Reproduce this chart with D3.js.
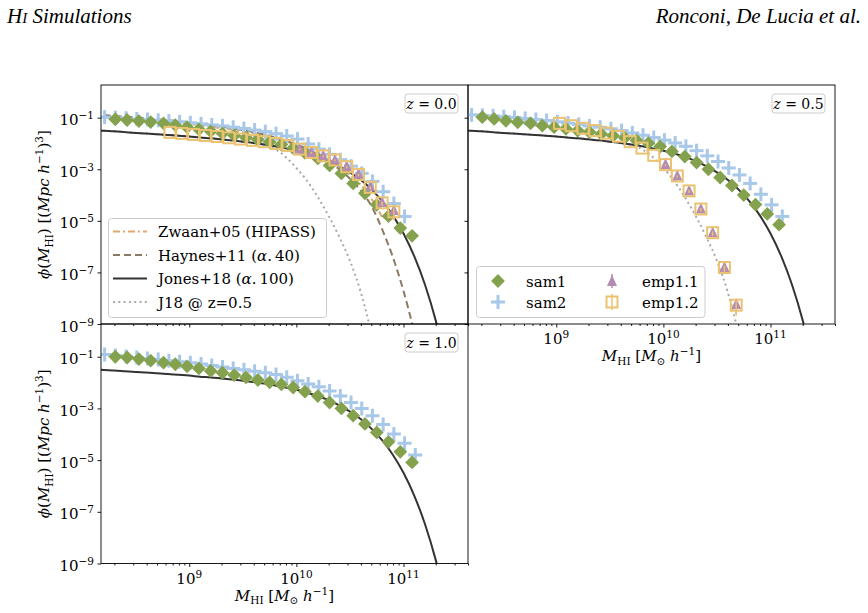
<!DOCTYPE html>
<html><head><meta charset="utf-8">
<script src="https://cdn.jsdelivr.net/npm/d3@7"></script>
<style>
body{margin:0;background:#fff}
svg{display:block}
text{font-family:"DejaVu Serif",serif;fill:#000}
</style>
</head><body>
<svg id="c" width="868" height="613"></svg>
<script>
// ---------------- DATA (log10 values) ----------------
const redshiftLabels = ["0.0", "0.5", "1.0"];
const yTickExps = [-1, -3, -5, -7, -9];
const xTickExps = [9, 10, 11];

// sam1 (diamonds)
const logM_sam1 = [8.31,8.42,8.53,8.64,8.76,8.87,8.98,9.09,9.20,9.31,9.42,9.53,9.64,9.75,9.86,9.97,10.08,10.20,10.31,10.42,10.53,10.64,10.75,10.86,10.97,11.08];
const logPhi_sam1_z00 = [-1.06,-1.09,-1.13,-1.17,-1.22,-1.29,-1.37,-1.45,-1.53,-1.61,-1.69,-1.77,-1.85,-1.94,-2.04,-2.18,-2.36,-2.58,-2.85,-3.16,-3.55,-3.93,-4.38,-4.82,-5.28,-5.58];
const logPhi_sam1_z05 = [-0.98,-1.05,-1.12,-1.18,-1.22,-1.31,-1.37,-1.43,-1.50,-1.56,-1.63,-1.70,-1.78,-1.88,-1.99,-2.12,-2.31,-2.51,-2.74,-3.00,-3.32,-3.63,-4.00,-4.37,-4.73,-5.15];
const logPhi_sam1_z10 = [-1.00,-1.03,-1.09,-1.15,-1.23,-1.29,-1.37,-1.45,-1.55,-1.62,-1.71,-1.80,-1.90,-1.99,-2.07,-2.19,-2.35,-2.52,-2.77,-3.00,-3.28,-3.60,-3.93,-4.29,-4.68,-5.09];

// sam2 (plus)
const logM_sam2 = [8.21,8.31,8.41,8.51,8.61,8.71,8.81,8.91,9.01,9.11,9.21,9.31,9.41,9.51,9.61,9.71,9.81,9.91,10.01,10.11,10.21,10.31,10.41,10.51,10.61,10.71,10.81,10.91,11.01,11.11];
const logPhi_sam2_z00 = [-0.98,-1.00,-1.02,-1.05,-1.07,-1.10,-1.13,-1.16,-1.20,-1.24,-1.28,-1.32,-1.37,-1.42,-1.48,-1.54,-1.62,-1.71,-1.83,-2.02,-2.22,-2.42,-2.63,-2.88,-3.16,-3.47,-3.87,-4.33,-4.83];
const logPhi_sam2_z05 = [-0.89,-0.91,-0.93,-0.96,-0.99,-1.03,-1.07,-1.11,-1.16,-1.21,-1.26,-1.32,-1.37,-1.43,-1.50,-1.59,-1.68,-1.77,-1.87,-1.98,-2.11,-2.28,-2.48,-2.70,-2.95,-3.22,-3.55,-3.97,-4.38,-4.83];
const logPhi_sam2_z10 = [-0.91,-0.95,-0.99,-1.03,-1.07,-1.11,-1.15,-1.19,-1.23,-1.28,-1.34,-1.40,-1.45,-1.50,-1.56,-1.62,-1.69,-1.79,-1.93,-2.05,-2.16,-2.33,-2.52,-2.77,-3.00,-3.28,-3.62,-3.99,-4.35,-4.80];

// emp1.2 (open squares) and emp1.1 (triangles)
const logM_emp12_z00 = [8.82,8.93,9.04,9.15,9.26,9.37,9.48,9.59,9.70,9.81,9.92,10.03,10.14,10.25,10.36,10.47,10.58,10.69,10.80,10.91];
const logPhi_emp12_z00 = [-1.57,-1.61,-1.65,-1.69,-1.73,-1.78,-1.83,-1.88,-1.93,-2.00,-2.08,-2.22,-2.35,-2.48,-2.64,-2.90,-3.20,-3.70,-4.30,-4.65];
const err_emp12_z00 = [0,0,0,0,0,0,0,0,0,0,0,0.04,0.04,0.05,0.05,0.06,0.07,0.09,0.12,0.32];
const logM_emp11_z00 = [10.03,10.14,10.25,10.36,10.47,10.58,10.69,10.80,10.91];
const logPhi_emp11_z00 = [-2.20,-2.33,-2.46,-2.62,-2.87,-3.17,-3.66,-4.27,-4.58];
const err_emp11_z00 = [0.04,0.04,0.05,0.05,0.06,0.07,0.09,0.12,0.38];

const logM_emp12_z05 = [9.03,9.14,9.25,9.36,9.47,9.58,9.69,9.80,9.91,10.02,10.13,10.24,10.35,10.46,10.57,10.68];
const logPhi_emp12_z05 = [-1.22,-1.31,-1.41,-1.50,-1.60,-1.72,-1.93,-2.18,-2.46,-2.82,-3.26,-3.84,-4.54,-5.46,-6.81,-8.27];
const err_emp12_z05 = [0,0,0,0,0,0,0,0,0,0.05,0.06,0.08,0.10,0.13,0.20,0.40];
const logM_emp11_z05 = [10.02,10.13,10.24,10.35,10.46,10.57,10.68];
const logPhi_emp11_z05 = [-2.80,-3.24,-3.82,-4.52,-5.44,-6.79,-8.22];
const err_emp11_z05 = [0.05,0.06,0.08,0.10,0.13,0.20,0.42];

// observational mass functions (curves)
const logM_jones = [8.1,8.2,8.3,8.4,8.5,8.6,8.7,8.8,8.9,9.0,9.1,9.2,9.3,9.4,9.5,9.6,9.7,9.8,9.9,10.0,10.1,10.2,10.3,10.4,10.5,10.6,10.7,10.8,10.9,11.0,11.1,11.2,11.3,11.4];
const logPhi_jones = [-1.48,-1.51,-1.53,-1.56,-1.59,-1.61,-1.64,-1.67,-1.70,-1.73,-1.77,-1.80,-1.84,-1.88,-1.93,-1.98,-2.04,-2.11,-2.19,-2.28,-2.39,-2.52,-2.68,-2.88,-3.12,-3.41,-3.78,-4.23,-4.79,-5.49,-6.37,-7.47,-8.85,-10.58];
const logM_haynes = [8.1,8.2,8.3,8.4,8.5,8.6,8.7,8.8,8.9,9.0,9.1,9.2,9.3,9.4,9.5,9.6,9.7,9.8,9.9,10.0,10.1,10.2,10.3,10.4,10.5,10.6,10.7,10.8,10.9,11.0,11.1];
const logPhi_haynes = [-0.87,-0.90,-0.93,-0.96,-0.99,-1.02,-1.06,-1.10,-1.14,-1.19,-1.24,-1.29,-1.35,-1.41,-1.48,-1.56,-1.65,-1.76,-1.89,-2.04,-2.22,-2.43,-2.68,-3.00,-3.36,-3.82,-4.42,-5.32,-6.40,-7.72,-9.30];
const logM_zwaan = [8.1,8.2,8.3,8.4,8.5,8.6,8.7,8.8,8.9,9.0,9.1,9.2,9.3,9.4,9.5,9.6,9.7,9.8,9.9,10.0,10.1,10.2,10.3,10.4,10.5,10.6,10.7,10.8];
const logPhi_zwaan = [-0.95,-0.97,-1.00,-1.03,-1.06,-1.09,-1.12,-1.16,-1.20,-1.25,-1.30,-1.35,-1.41,-1.47,-1.54,-1.61,-1.70,-1.80,-1.92,-2.06,-2.22,-2.41,-2.63,-2.90,-3.22,-3.60,-4.14,-4.85];
const logM_j18z05 = [8.1,8.5,9.0,9.3,9.5,9.6,9.7,9.8,9.9,10.0,10.1,10.2,10.3,10.4,10.5,10.6,10.7,10.8];
const logPhi_j18z05 = [-1.48,-1.59,-1.73,-1.84,-1.93,-1.99,-2.06,-2.22,-2.52,-2.95,-3.45,-4.08,-4.80,-5.62,-6.55,-7.75,-9.35,-11.2];

// ---------------- STYLE ----------------
const C = {
  sam1: "#84a24d", sam2: "#a8c8e9", emp11: "#b48cb1", emp12: "#ebc370",
  jones: "#333333", haynes: "#8c7a63", zwaan: "#e2a870", j18: "#a9a9a9"
};
const FS = 15;

const svg = d3.select("#c");
svg.append("rect").attr("width", 868).attr("height", 613).attr("fill", "#fff");

// rich text helper
function rich(sel, parts, size) {
  let shift = 0;
  parts.forEach(p => {
    const ts = sel.append("tspan").text(p.t);
    const target = p.sub ? 3.5 : p.sup ? -6 : 0;
    if (target !== shift) { ts.attr("dy", target - shift); shift = target; }
    if (p.i) ts.attr("font-style", "italic");
    if (p.sub || p.sup) ts.attr("font-size", size * 0.7);
  });
  return sel;
}

// header
svg.append("text").attr("x", 7).attr("y", 23)
  .style("font-family", "'Liberation Serif','Times New Roman',serif")
  .attr("font-style", "italic").attr("font-size", 21)
  .call(t => { t.append("tspan").text("H"); t.append("tspan").attr("font-size", 15).text("I"); t.append("tspan").text(" Simulations"); });
svg.append("text").attr("x", 861).attr("y", 23).attr("text-anchor", "end")
  .style("font-family", "'Liberation Serif','Times New Roman',serif")
  .attr("font-style", "italic").attr("font-size", 21).text("Ronconi, De Lucia et al.");

const P = (v) => Math.pow(10, v);
const zip = (a, b) => a.map((v, i) => [v, b[i]]);

const panels = [
  { id: "z00", x0: 101, x1: 468, y0: 85, y1: 324, lab: redshiftLabels[0], xLabels: false, yLabels: true },
  { id: "z05", x0: 468, x1: 835, y0: 85, y1: 324, lab: redshiftLabels[1], xLabels: true, yLabels: false },
  { id: "z10", x0: 101, x1: 468, y0: 324, y1: 563.5, lab: redshiftLabels[2], xLabels: true, yLabels: true }
];

const diamond = "M0,-6.9L6.9,0L0,6.9L-6.9,0Z";
const tri = "M0,-6L5,5L-5,5Z";

function drawPlus(g, x, y) {
  g.append("line").attr("x1", x - 7).attr("x2", x + 7).attr("y1", y).attr("y2", y).attr("stroke", C.sam2).attr("stroke-width", 3);
  g.append("line").attr("x1", x).attr("x2", x).attr("y1", y - 7).attr("y2", y + 7).attr("stroke", C.sam2).attr("stroke-width", 3);
}

panels.forEach(p => {
  const x = d3.scaleLog().domain([1.5e8, 4e11]).range([p.x0, p.x1]);
  const y = d3.scaleLog().domain([1e-9, 1.85]).range([p.y1, p.y0]);
  const g = svg.append("g");
  g.append("clipPath").attr("id", "clip-" + p.id).append("rect")
    .attr("x", p.x0).attr("y", p.y0).attr("width", p.x1 - p.x0).attr("height", p.y1 - p.y0);
  const plot = g.append("g").attr("clip-path", "url(#clip-" + p.id + ")");

  const line = d3.line().x(d => x(P(d[0]))).y(d => y(P(d[1]))).curve(d3.curveMonotoneX);
  const addCurve = (lm, lp, color, dash) => plot.append("path").attr("d", line(zip(lm, lp)))
    .attr("fill", "none").attr("stroke", color).attr("stroke-width", 2).attr("stroke-dasharray", dash || null);

  if (p.id === "z00") {
    addCurve(logM_zwaan, logPhi_zwaan, C.zwaan, "7,3,2,3");
    addCurve(logM_haynes, logPhi_haynes, C.haynes, "7,4");
    addCurve(logM_j18z05, logPhi_j18z05, C.j18, "2,3.3");
  }
  if (p.id === "z05") addCurve(logM_j18z05, logPhi_j18z05, C.j18, "2,3.3");
  addCurve(logM_jones, logPhi_jones, C.jones);

  const sam2 = p.id === "z00" ? logPhi_sam2_z00 : p.id === "z05" ? logPhi_sam2_z05 : logPhi_sam2_z10;
  const sam1 = p.id === "z00" ? logPhi_sam1_z00 : p.id === "z05" ? logPhi_sam1_z05 : logPhi_sam1_z10;
  sam2.forEach((v, i) => drawPlus(plot, x(P(logM_sam2[i])), y(P(v))));
  plot.selectAll(null).data(zip(logM_sam1, sam1)).enter().append("path")
    .attr("d", diamond).attr("fill", C.sam1)
    .attr("transform", d => `translate(${x(P(d[0]))},${y(P(d[1]))})`);

  if (p.id !== "z10") {
    const m11 = p.id === "z00" ? logM_emp11_z00 : logM_emp11_z05;
    const v11 = p.id === "z00" ? logPhi_emp11_z00 : logPhi_emp11_z05;
    const e11 = p.id === "z00" ? err_emp11_z00 : err_emp11_z05;
    const m12 = p.id === "z00" ? logM_emp12_z00 : logM_emp12_z05;
    const v12 = p.id === "z00" ? logPhi_emp12_z00 : logPhi_emp12_z05;
    const e12 = p.id === "z00" ? err_emp12_z00 : err_emp12_z05;
    m11.forEach((m, i) => {
      const cx = x(P(m));
      plot.append("line").attr("x1", cx).attr("x2", cx)
        .attr("y1", y(P(v11[i] - e11[i]))).attr("y2", y(P(v11[i] + e11[i] * 0.4)))
        .attr("stroke", C.emp11).attr("stroke-width", 1.5);
      plot.append("path").attr("d", tri).attr("fill", C.emp11)
        .attr("transform", `translate(${cx},${y(P(v11[i]))})`);
    });
    m12.forEach((m, i) => {
      const cx = x(P(m));
      if (e12[i] > 0) plot.append("line").attr("x1", cx).attr("x2", cx)
        .attr("y1", y(P(v12[i] - e12[i]))).attr("y2", y(P(v12[i] + e12[i] * 0.4)))
        .attr("stroke", C.emp12).attr("stroke-width", 1.5);
      plot.append("rect").attr("x", cx - 5.5).attr("y", y(P(v12[i])) - 5.5)
        .attr("width", 11).attr("height", 11).attr("fill", "none")
        .attr("stroke", C.emp12).attr("stroke-width", 2);
    });
  }

  // axes ticks
  const minor = [];
  for (let e = 8; e <= 11; e++) for (let k = 2; k <= 9; k++) { const v = k * Math.pow(10, e); if (v >= 1.5e8 && v <= 4e11) minor.push(v); }
  const ax = g.append("g").attr("transform", `translate(0,${p.y1})`)
    .call(d3.axisBottom(x).tickValues(xTickExps.map(e => P(e))).tickSize(3.5).tickFormat(""));
  const axm = g.append("g").attr("transform", `translate(0,${p.y1})`)
    .call(d3.axisBottom(x).tickValues(minor).tickSize(2).tickFormat(""));
  const ay = g.append("g").attr("transform", `translate(${p.x0},0)`)
    .call(d3.axisLeft(y).tickValues(yTickExps.map(e => P(e))).tickSize(3.5).tickFormat(""));
  [ax, axm, ay].forEach(a => { a.select(".domain").remove(); a.selectAll("line").attr("stroke", "#000").attr("stroke-width", 0.9); });

  // frame
  g.append("rect").attr("x", p.x0).attr("y", p.y0).attr("width", p.x1 - p.x0).attr("height", p.y1 - p.y0)
    .attr("fill", "none").attr("stroke", "#000").attr("stroke-width", 0.9);

  if (p.yLabels) {
    yTickExps.forEach(e => {
      const t = g.append("text").attr("x", p.x0 - 7).attr("y", y(P(e)) + 7.5).attr("text-anchor", "end").attr("font-size", FS);
      rich(t, [{ t: "10" }, { t: "\u2212" + Math.abs(e), sup: true }], FS);
    });
    const cy = (p.y0 + p.y1) / 2;
    const t = svg.append("text").attr("transform", `translate(49,${cy}) rotate(-90)`).attr("text-anchor", "middle").attr("font-size", FS);
    rich(t, [{ t: "\u03d5", i: true }, { t: "(" }, { t: "M", i: true }, { t: "HI", sub: true }, { t: ") [(" },
      { t: "Mpc h", i: true }, { t: "\u22121", sup: true }, { t: ")" }, { t: "3", sup: true }, { t: "]" }], FS);
  }
  if (p.xLabels) {
    xTickExps.forEach(e => {
      const t = g.append("text").attr("x", x(P(e))).attr("y", p.y1 + 20).attr("text-anchor", "middle").attr("font-size", FS);
      rich(t, [{ t: "10" }, { t: String(e), sup: true }], FS);
    });
    const t = g.append("text").attr("x", (p.x0 + p.x1) / 2).attr("y", p.y1 + 37).attr("text-anchor", "middle").attr("font-size", FS);
    rich(t, [{ t: "M", i: true }, { t: "HI", sub: true }, { t: " [" }, { t: "M", i: true }, { t: "\u2299", sub: true },
      { t: " " }, { t: "h", i: true }, { t: "\u22121", sup: true }, { t: "]" }], FS);
  }

  // redshift label box
  const bw = 53, bh = 19;
  const bx = p.x1 - 10 - bw, by = p.y0 + 9;
  g.append("rect").attr("x", bx).attr("y", by).attr("width", bw).attr("height", bh).attr("rx", 3)
    .attr("fill", "#fff").attr("stroke", "#cccccc").attr("stroke-width", 1);
  const zt = g.append("text").attr("x", bx + bw / 2).attr("y", by + bh / 2 + 5).attr("text-anchor", "middle").attr("font-size", 14);
  rich(zt, [{ t: "z", i: true }, { t: " = " + p.lab }], 14);

  // legends
  if (p.id === "z00") {
    const lg = g.append("g");
    lg.append("rect").attr("x", 108.5).attr("y", 218.5).attr("width", 218).attr("height", 99).attr("rx", 3)
      .attr("fill", "#fff").attr("fill-opacity", 0.85).attr("stroke", "#cccccc");
    const items = [
      { c: C.zwaan, d: "7,3,2,3", parts: [{ t: "Zwaan+05 (HIPASS)" }] },
      { c: C.haynes, d: "7,4", parts: [{ t: "Haynes+11 (" }, { t: "\u03b1", i: true }, { t: ".\u200940)" }] },
      { c: C.jones, d: null, parts: [{ t: "Jones+18 (" }, { t: "\u03b1", i: true }, { t: ".\u2009100)" }] },
      { c: C.j18, d: "2,3.3", parts: [{ t: "J18 @ z=0.5" }] }
    ];
    items.forEach((it, i) => {
      const yy = 231.5 + i * 23.5;
      lg.append("line").attr("x1", 113).attr("x2", 147).attr("y1", yy).attr("y2", yy)
        .attr("stroke", it.c).attr("stroke-width", 2).attr("stroke-dasharray", it.d);
      const t = lg.append("text").attr("x", 158).attr("y", yy + 5.5).attr("font-size", FS);
      rich(t, it.parts, FS);
    });
  }
  if (p.id === "z05") {
    const lg = g.append("g");
    lg.append("rect").attr("x", 476.5).attr("y", 266.5).attr("width", 228.5).attr("height", 51).attr("rx", 3)
      .attr("fill", "#fff").attr("fill-opacity", 0.85).attr("stroke", "#cccccc");
    const r1 = 281, r2 = 302;
    lg.append("path").attr("d", diamond).attr("fill", C.sam1).attr("transform", `translate(498,${r1})`);
    drawPlus(lg, 498, r2);
    lg.append("line").attr("x1", 612).attr("x2", 612).attr("y1", r1 - 7).attr("y2", r1 + 7).attr("stroke", C.emp11).attr("stroke-width", 1.5);
    lg.append("path").attr("d", tri).attr("fill", C.emp11).attr("transform", `translate(612,${r1})`);
    lg.append("line").attr("x1", 612).attr("x2", 612).attr("y1", r2 - 8).attr("y2", r2 + 8).attr("stroke", C.emp12).attr("stroke-width", 1.5);
    lg.append("rect").attr("x", 606.5).attr("y", r2 - 5.5).attr("width", 11).attr("height", 11).attr("fill", "none").attr("stroke", C.emp12).attr("stroke-width", 2);
    [["sam1", 526, r1], ["sam2", 526, r2], ["emp1.1", 642, r1], ["emp1.2", 642, r2]].forEach(d => {
      lg.append("text").attr("x", d[1]).attr("y", d[2] + 5.5).attr("font-size", FS).text(d[0]);
    });
  }
});
</script>
</body></html>
